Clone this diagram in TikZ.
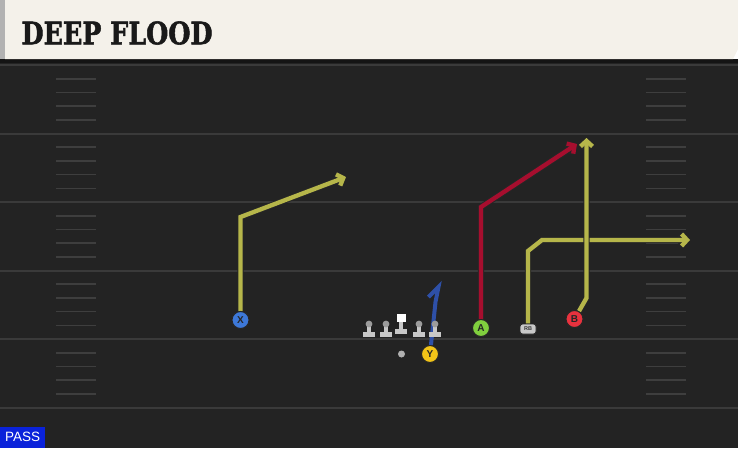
\documentclass[tikz,border=0pt]{standalone}
\usepackage{fontspec}
\setsansfont{Liberation Sans}
\newfontfamily\titlefont{DejaVu Serif}[BoldFeatures={FakeBold=1.8}]
\usetikzlibrary{arrows.meta,positioning}

\definecolor{fieldbg}{HTML}{232323}
\definecolor{yardline}{HTML}{3A3A3A}
\definecolor{hashline}{HTML}{3E3E3E}
\definecolor{headbg}{HTML}{F4F1EA}
\definecolor{routeyel}{HTML}{B6B64A}
\definecolor{routered}{HTML}{A60E2E}
\definecolor{routeblue}{HTML}{2E50A8}
\definecolor{xblue}{HTML}{3D78D8}
\definecolor{yyel}{HTML}{F2C418}
\definecolor{agreen}{HTML}{80CF3E}
\definecolor{bred}{HTML}{E8323E}
\definecolor{linegrey}{HTML}{C8C8C8}
\definecolor{headgrey}{HTML}{9C9C9C}
\definecolor{passblue}{HTML}{0A22DA}

\pgfdeclarelayer{bg}
\pgfsetlayers{bg,main}

\begin{document}
\begin{tikzpicture}[x=1pt, y=-1pt,
    player/.style={circle, draw=black!85, line width=1pt, minimum size=17pt, inner sep=0pt, font=\sffamily\bfseries\fontsize{10}{10}\selectfont, text=black!85},
    rb/.style={rounded corners=2.5pt, draw=black!85, line width=0.8pt, fill=linegrey, minimum width=16pt, minimum height=10pt, inner sep=0pt, font=\sffamily\bfseries\fontsize{5.5}{5.5}\selectfont, text=black!80},
    route/.style={draw=#1, line width=4.3pt, line join=miter, -{Straight Barb[length=5.5pt,width=12pt]},
        preaction={draw=black!85, line width=6.3pt, line join=miter, -{Straight Barb[length=5.5pt,width=12pt]}}},
    hash/.style={hashline, line width=1.6pt},
    passtag/.style={fill=passblue, text=white, font=\sffamily\fontsize{13.5}{13.5}\selectfont, minimum width=45pt, minimum height=21pt, inner sep=1pt}
]
\useasboundingbox (0,0) rectangle (738,448);

% Field
\begin{pgfonlayer}{bg}
\fill[fieldbg] (0,59) rectangle (738,448);
\fill[black!92] (0,59) rectangle (738,63);
\foreach \y in {65,133.5,202,270.5,339,407.5} {
    \draw[yardline, line width=2pt] (0,\y) -- (738,\y);
}
\foreach \y in {65,133.5,202,270.5,339} {
    \foreach \k in {1,...,4} {
        \draw[hash] (56,\y+13.7*\k) -- (96,\y+13.7*\k);
        \draw[hash] (646,\y+13.7*\k) -- (686,\y+13.7*\k);
    }
}
\end{pgfonlayer}

% Header
\fill[gray!60] (0,0) rectangle (5,59);
\fill[headbg] (5,0) -- (738,0) -- (738,49) -- (733,59) -- (5,59) -- cycle;
\node[anchor=west, text=black!90, font=\titlefont\bfseries\fontsize{31}{31}\selectfont] (title) at (18,33) {\scalebox{0.82}[1]{DEEP FLOOD}};

% Line
\foreach \x in {369,386,419,435} {
    \fill[linegrey] (\x-2,326) rectangle (\x+2,333);
    \fill[linegrey] (\x-6,332) rectangle (\x+6,337);
    \fill[headgrey] (\x,324) circle (3.4);
}
\fill[white] (397,313.5) rectangle (405.5,322);
\fill[linegrey] (399,322) rectangle (403,329);
\fill[linegrey] (395,329) rectangle (407,334);
\node[circle, fill=headgrey!80, minimum size=7pt, inner sep=0pt] (QB) at (401.5,354) {};

% Players
\node[player, fill=xblue] (X) at (240.5,320) {X};
\node[player, fill=yyel] (Y) at (430,354) {Y};
\node[player, fill=agreen] (A) at (481,328) {A};
\node[player, fill=bred] (B) at (574.5,319) {B};
\node[rb] (RB) at (528,329) {RB};

% Routes
\coordinate (xcut) at (240.5,217);
\coordinate (xend) at (346,177);
\coordinate (acut) at (481,207);
\coordinate (aend) at (577,144);
\coordinate (rbcut) at (528,251);
\coordinate (rbturn) at (542,240);
\coordinate (rbend) at (690,240);
\coordinate (bcut) at (586.5,298);
\coordinate (bend) at (586.5,138);
\coordinate (ytop) at (438.5,287);
\coordinate (ytail) at (428.5,297);

\begin{pgfonlayer}{bg}
\draw[route=routeyel] (X) -- (xcut) -- (xend);
\draw[route=routered] (A) -- (acut) -- (aend);
\draw[route=routeyel] (RB) -- (rbcut) -- (rbturn) -- (rbend);
\draw[route=routeyel] (B) -- (bcut) -- (bend);
\draw[routeblue, line width=4pt, line join=miter] (Y) -- (435.5,302) -- (ytop) -- (ytail);
\end{pgfonlayer}

\node[passtag, anchor=south west] (pass) at (0,448) {PASS};
\end{tikzpicture}
\end{document}
